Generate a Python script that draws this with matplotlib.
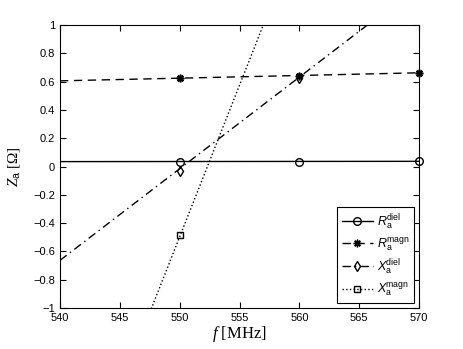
import matplotlib.pyplot as plt
from matplotlib.lines import Line2D

plt.rcParams['font.family'] = 'Liberation Sans'
plt.rcParams['mathtext.fontset'] = 'custom'
plt.rcParams['mathtext.rm'] = 'Liberation Serif'
plt.rcParams['mathtext.it'] = 'Liberation Serif:italic'
plt.rcParams['mathtext.sf'] = 'Liberation Sans'
plt.rcParams['mathtext.cal'] = 'Liberation Sans:italic'

# simulated points
f_pts = [550, 560, 570]
R_diel = [0.035, 0.035, 0.036]
R_magn = [0.623, 0.64, 0.663]
X_diel = [-0.03, 0.625, 1.28]
X_magn = [-0.487, 1.65, 3.8]

# fitted lines (end points)
f_fit = [540, 570]
R_diel_fit = [0.035, 0.037]
R_magn_fit = [0.606, 0.663]
X_diel_fit = [-0.663, 1.28]
X_magn_fit = [-2.64, 3.79]

fig = plt.figure(figsize=(4.63, 3.49), dpi=100)
ax = fig.add_axes([0.1296, 0.1175, 0.7754, 0.8105])

ax.plot(f_fit, R_diel_fit, 'k-', lw=1)
ax.plot(f_fit, R_magn_fit, 'k--', lw=1, dashes=(6, 4))
ax.plot(f_fit, X_diel_fit, 'k-.', lw=1, dashes=(6, 3, 1, 3))
ax.plot(f_fit, X_magn_fit, 'k:', lw=1)

ax.plot(f_pts, R_diel, 'ko', mfc='none', ms=5.5, clip_on=False)
ax.plot(f_pts, R_magn, 'k', ls='none', marker=(8, 2, 0), ms=5.5, mew=1.2, clip_on=False)
ax.plot(f_pts, X_diel, 'kd', mfc='none', ms=5.5)
ax.plot(f_pts, X_magn, 'ks', mfc='none', ms=4.5)

ax.set_xlim(540, 570)
ax.set_ylim(-1, 1)
ax.set_xticks([540, 545, 550, 555, 560, 565, 570])
ax.set_yticks([-1, -0.8, -0.6, -0.4, -0.2, 0, 0.2, 0.4, 0.6, 0.8, 1])
ax.set_yticklabels(['\u22121', '\u22120.8', '\u22120.6', '\u22120.4', '\u22120.2', '0',
                    '0.2', '0.4', '0.6', '0.8', '1'])
ax.tick_params(direction='in', top=True, right=True, length=4, labelsize=8, width=0.8)
for s in ax.spines.values():
    s.set_linewidth(0.8)

ax.set_xlabel('$f$ [MHz]', fontsize=12, family='Liberation Serif', labelpad=1)
ax.set_ylabel('$Z_\\mathsf{a}$ [\u03a9]', fontsize=11, family='Liberation Serif', labelpad=8)

handles = [
    Line2D([], [], color='k', ls='-', lw=1, marker='o', mfc='none', ms=5.5),
    Line2D([], [], color='k', ls='--', lw=1, dashes=(6, 4), marker=(8, 2, 0), ms=5.5),
    Line2D([], [], color='k', ls='-.', lw=1, dashes=(6, 3, 1, 3), marker='d', mfc='none', ms=5.5),
    Line2D([], [], color='k', ls=':', lw=1, marker='s', mfc='none', ms=4.5),
]
labels = ['$\\mathcal{R}_\\mathsf{a}^\\mathsf{diel}$', '$\\mathcal{R}_\\mathsf{a}^\\mathsf{magn}$',
          '$\\mathcal{X}_\\mathsf{a}^\\mathsf{diel}$', '$\\mathcal{X}_\\mathsf{a}^\\mathsf{magn}$']
leg = ax.legend(handles, labels, loc='lower right', fontsize=9, fancybox=False,
                edgecolor='k', framealpha=1, handlelength=2.5, borderaxespad=0.4,
                labelspacing=0.35, handletextpad=0.3, borderpad=0.4)
leg.get_frame().set_linewidth(0.8)

fig.savefig('out.png', dpi=100)
